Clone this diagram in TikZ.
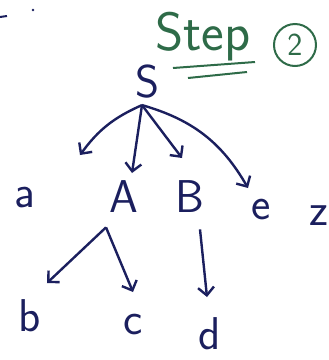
\documentclass[tikz,border=0pt]{standalone}
\usetikzlibrary{arrows.meta}
\definecolor{inkblue}{HTML}{1B1F5E}
\definecolor{inkgreen}{HTML}{2E6B48}

\begin{document}
\begin{tikzpicture}[x=.5pt, y=-.5pt, font=\fontsize{23}{26}\selectfont\sffamily,
      sym/.style={inner sep=0pt, color=inkblue},
      edge/.style={-{Straight Barb[length=4pt, width=8pt]}, line width=1.2pt, inkblue},
      note/.style={color=inkgreen}]
      \useasboundingbox (0,0) rectangle (328,360);

      % heading
      \node[note, font=\fontsize{27}{30}\selectfont\sffamily] (step) at (203,37) {Step};
      \node[note, draw=inkgreen, circle, line width=1pt, minimum size=21pt, inner sep=0pt,
            font=\fontsize{16}{18}\selectfont\sffamily] (n2) at (295,45) {2};
      \draw[inkgreen, line width=1pt] (173,68) -- (255,62);
      \draw[inkgreen, line width=1pt] (188,78) -- (247,72);
      \draw[inkblue, line width=1pt] (0,17) -- (7,16);
      \fill[inkblue] (33,10) circle (1.4);

      % tree
      \node[sym] (S) at (148,82) {S};
      \node[sym] (a) at (25,198) {a};
      \node[sym] (A) at (124,197) {A};
      \node[sym] (B) at (190,197) {B};
      \node[sym] (e) at (261,210) {e};
      \node[sym] (z) at (319,216) {z};
      \node[sym] (b) at (30,316) {b};
      \node[sym] (c) at (133,325) {c};
      \node[sym] (d) at (210,334) {d};

      \coordinate (fS) at ([xshift=-3pt, yshift=-3pt]S.south);
      \coordinate (fA) at ([xshift=-9pt, yshift=-7pt]A.south);
      \coordinate (fB) at ([xshift=5pt, yshift=-8pt]B.south);
      \coordinate (ta) at (80,155);
      \coordinate (tA) at (132,173);
      \coordinate (tB) at (182,158);
      \coordinate (te) at (248,188);
      \coordinate (tb) at (47,283);
      \coordinate (tc) at (133,292);
      \coordinate (td) at (207,297);

      \draw[edge] (fS) to[bend right=15] (ta);
      \draw[edge] (fS) -- (tA);
      \draw[edge] (fS) -- (tB);
      \draw[edge] (fS) to[bend left=22] (te);
      \draw[edge] (fA) -- (tb);
      \draw[edge] (fA) -- (tc);
      \draw[edge] (fB) -- (td);
\end{tikzpicture}
\end{document}
